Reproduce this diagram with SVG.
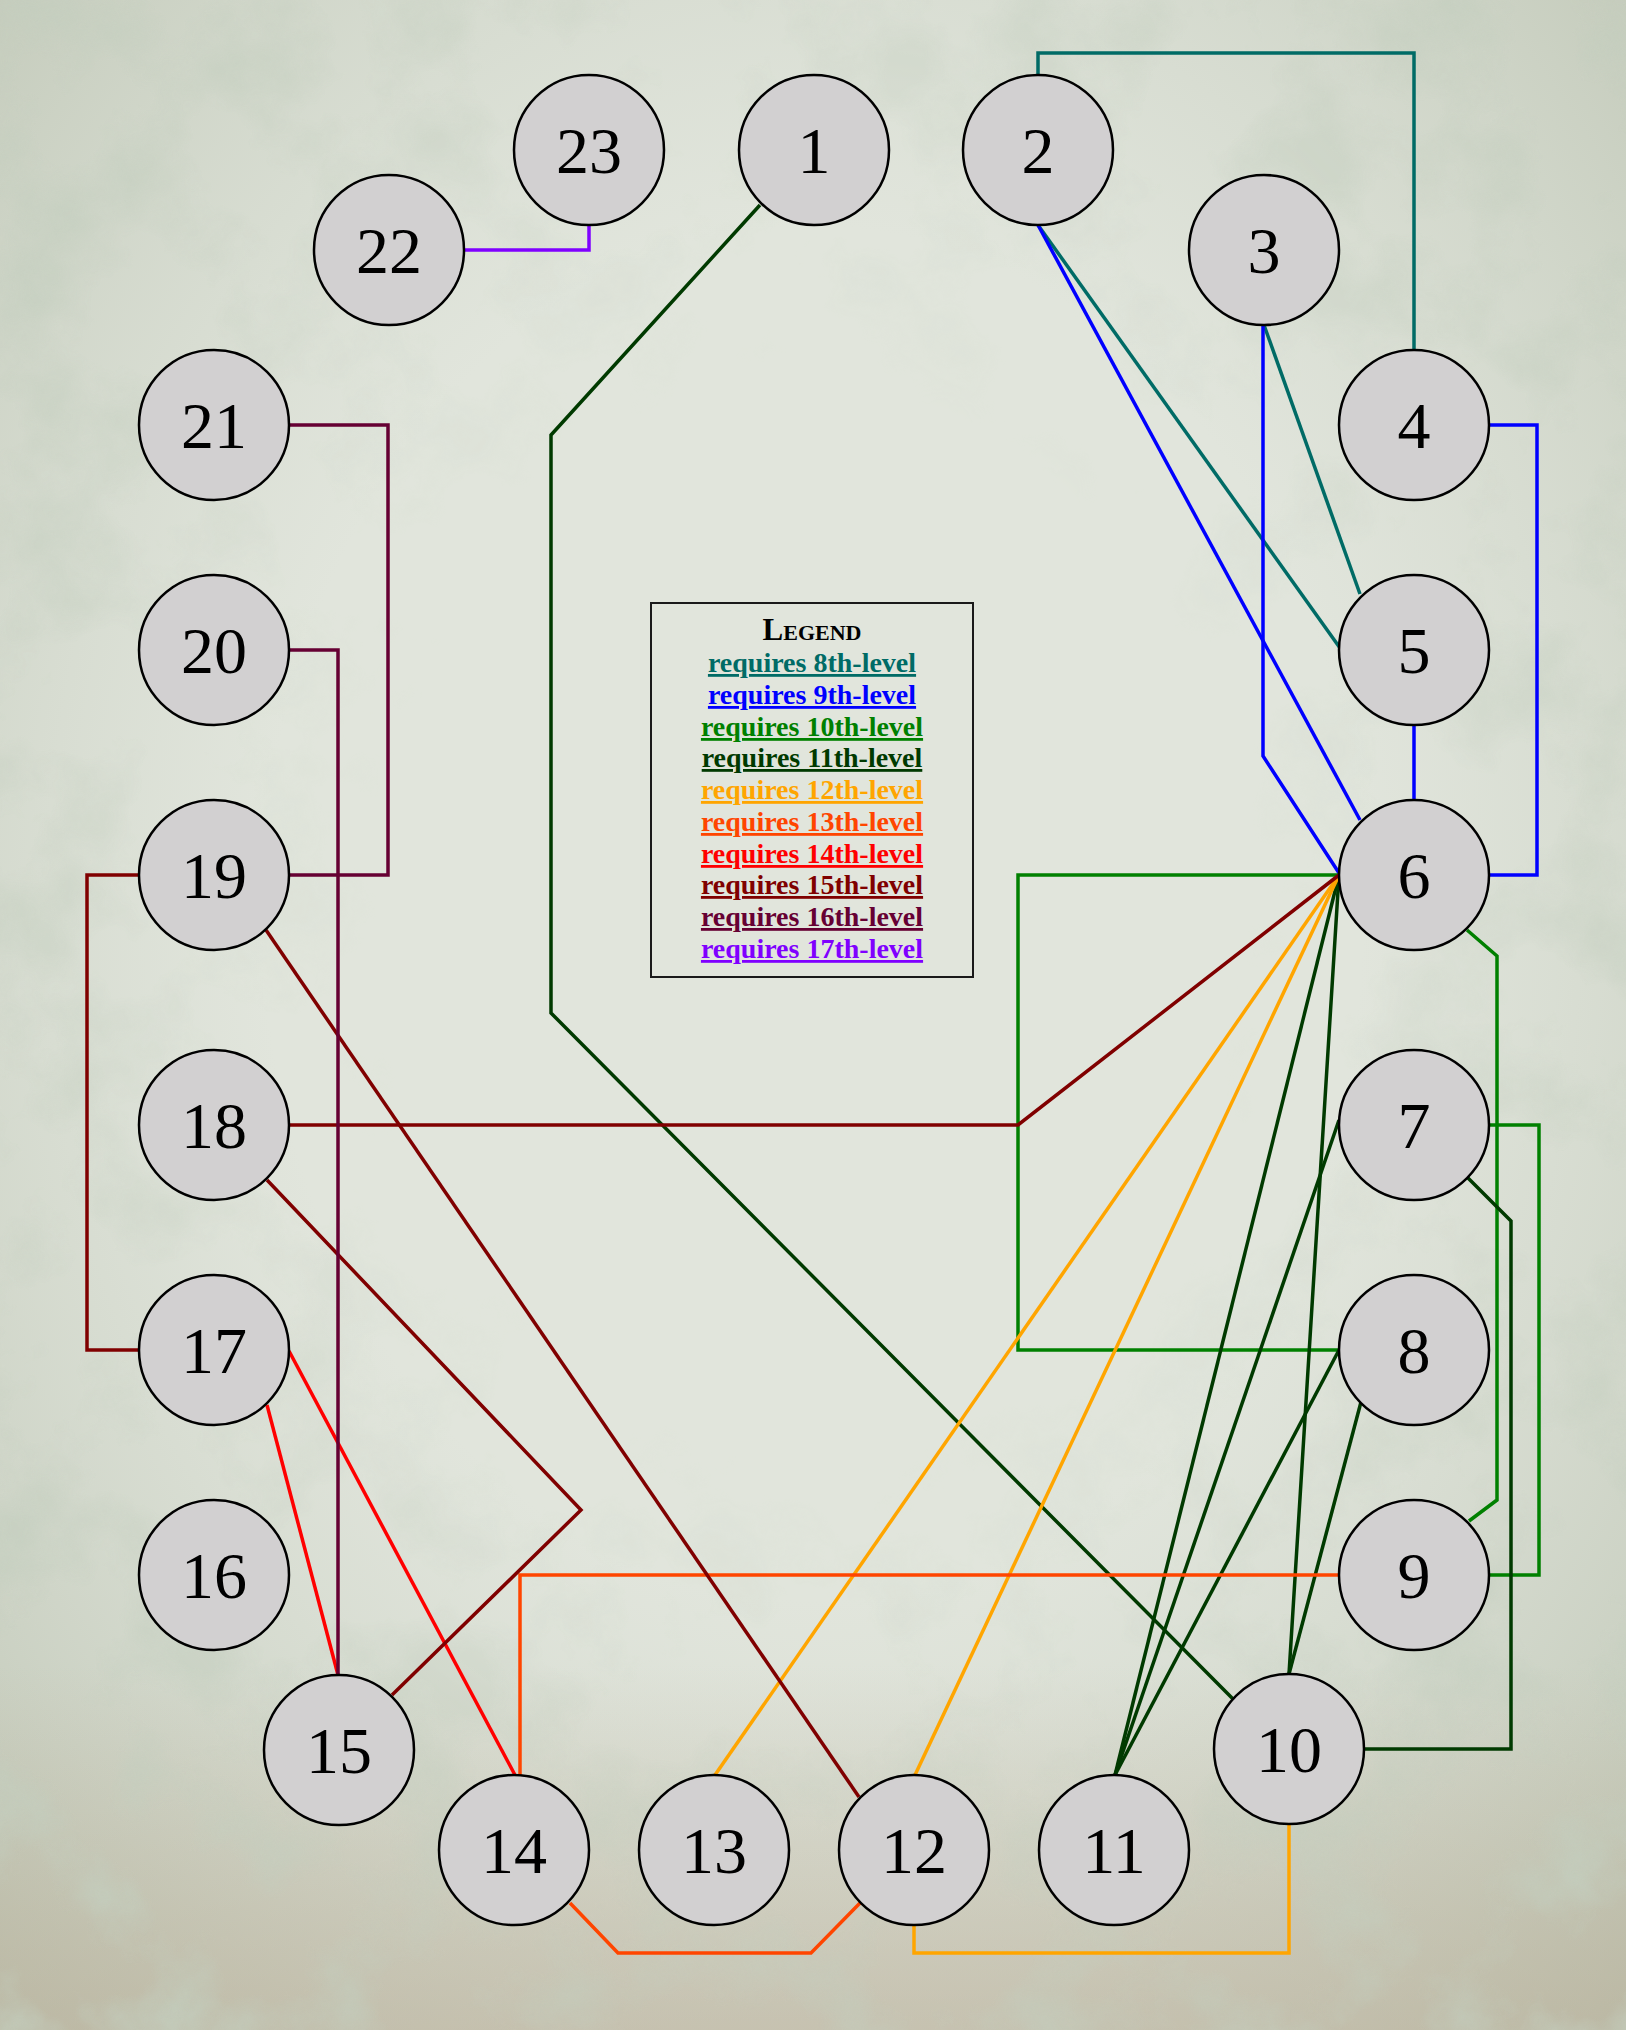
<svg xmlns="http://www.w3.org/2000/svg" width="1626" height="2030" viewBox="0 0 1626 2030">
<defs>
<style>
.node circle{fill:#d2d0d1;stroke:#000;stroke-width:2.5}
.node text{font-family:"Liberation Serif","Times New Roman",serif;font-size:66px;text-anchor:middle;fill:#000}
.e{fill:none;stroke-width:3.5;stroke-linejoin:miter}
.c8{stroke:#006b66}.c9{stroke:#0000ff}.c10{stroke:#008000}.c11{stroke:#003a00}
.c12{stroke:#ffa500}.c13{stroke:#ff4500}.c14{stroke:#ff0000}.c15{stroke:#800000}
.c16{stroke:#660033}.c17{stroke:#7f00ff}
.lg{font-family:"Liberation Serif","Times New Roman",serif;font-weight:bold;font-size:28px;text-anchor:middle;text-decoration:underline}
</style>
<radialGradient id="vig" cx="50%" cy="45%" r="75%">
<stop offset="0.45" stop-color="#c3cbbc" stop-opacity="0"/>
<stop offset="1" stop-color="#b4bca8" stop-opacity="0.8"/>
</radialGradient>
<linearGradient id="btm" x1="0" y1="0" x2="0" y2="1">
<stop offset="0.82" stop-color="#b9a890" stop-opacity="0"/>
<stop offset="1" stop-color="#b9a890" stop-opacity="0.45"/>
</linearGradient>
<radialGradient id="mg" cx="50%" cy="45%" r="72%">
<stop offset="0.35" stop-color="#000"/>
<stop offset="1" stop-color="#fff"/>
</radialGradient>
<mask id="edgeMask"><rect width="1626" height="2030" fill="url(#mg)"/></mask>
<filter id="tex" x="0" y="0" width="100%" height="100%">
<feTurbulence type="fractalNoise" baseFrequency="0.008" numOctaves="5" seed="7"/>
<feColorMatrix type="matrix" values="0 0 0 0 0.55  0 0 0 0 0.62  0 0 0 0 0.52  3 0 0 0 -1.35"/>
</filter>
</defs>
<rect width="1626" height="2030" fill="#e1e5dc"/>
<rect width="1626" height="2030" fill="url(#vig)"/>
<rect width="1626" height="2030" fill="url(#btm)"/>
<rect width="1626" height="2030" filter="url(#tex)" mask="url(#edgeMask)" opacity="0.9"/>

<g id="connectors">
<path class="e c8" d="M1038,75 V53 H1414 V350"/>
<path class="e c8" d="M1038,225 L1340,648"/>
<path class="e c8" d="M1264,325 L1360,594"/>
<path class="e c9" d="M1038,225 L1360,820"/>
<path class="e c9" d="M1263,325 V756 L1339,873"/>
<path class="e c9" d="M1489,425 H1537 V875 H1489"/>
<path class="e c9" d="M1414,725 V800"/>
<path class="e c10" d="M1339,875 H1018 V1350 H1339"/>
<path class="e c10" d="M1467,930 L1497,956 V1500 L1469,1521"/>
<path class="e c10" d="M1489,1125 H1539 V1575 H1489"/>
<path class="e c11" d="M760,205 L551,435 V1013 L1234,1700"/>
<path class="e c11" d="M1468,1178 L1511,1221 V1749 H1364"/>
<path class="e c11" d="M1339,875 L1115,1775"/>
<path class="e c11" d="M1339,875 L1289,1674"/>
<path class="e c11" d="M1339,1120 L1115,1775"/>
<path class="e c11" d="M1339,1350 L1115,1775"/>
<path class="e c11" d="M1361,1402 L1289,1674"/>
<path class="e c12" d="M1339,875 L715,1775"/>
<path class="e c12" d="M1339,875 L915,1775"/>
<path class="e c12" d="M914,1925 V1953 H1289 V1824"/>
<path class="e c13" d="M1339,1575 H520 V1775"/>
<path class="e c13" d="M570,1903 L618,1953 H811 L860,1903"/>
<path class="e c14" d="M267,1405 L338,1675"/>
<path class="e c14" d="M289,1351 L515,1775"/>
<path class="e c15" d="M1339,875 L1018,1125 H289"/>
<path class="e c15" d="M267,1180 L581,1510 L392,1695"/>
<path class="e c15" d="M266,930 L859,1797"/>
<path class="e c15" d="M139,875 H87 V1350 H139"/>
<path class="e c16" d="M289,650 H338 V1675"/>
<path class="e c16" d="M289,425 H388 V875 H289"/>
<path class="e c17" d="M464,250 H589 V225"/>
</g>

<g id="n1" class="node"><circle cx="814" cy="150" r="75"/><text x="814" y="173">1</text></g>
<g id="n2" class="node"><circle cx="1038" cy="150" r="75"/><text x="1038" y="173">2</text></g>
<g id="n3" class="node"><circle cx="1264" cy="250" r="75"/><text x="1264" y="273">3</text></g>
<g id="n4" class="node"><circle cx="1414" cy="425" r="75"/><text x="1414" y="448">4</text></g>
<g id="n5" class="node"><circle cx="1414" cy="650" r="75"/><text x="1414" y="673">5</text></g>
<g id="n6" class="node"><circle cx="1414" cy="875" r="75"/><text x="1414" y="898">6</text></g>
<g id="n7" class="node"><circle cx="1414" cy="1125" r="75"/><text x="1414" y="1148">7</text></g>
<g id="n8" class="node"><circle cx="1414" cy="1350" r="75"/><text x="1414" y="1373">8</text></g>
<g id="n9" class="node"><circle cx="1414" cy="1575" r="75"/><text x="1414" y="1598">9</text></g>
<g id="n10" class="node"><circle cx="1289" cy="1749" r="75"/><text x="1289" y="1772">10</text></g>
<g id="n11" class="node"><circle cx="1114" cy="1850" r="75"/><text x="1114" y="1873">11</text></g>
<g id="n12" class="node"><circle cx="914" cy="1850" r="75"/><text x="914" y="1873">12</text></g>
<g id="n13" class="node"><circle cx="714" cy="1850" r="75"/><text x="714" y="1873">13</text></g>
<g id="n14" class="node"><circle cx="514" cy="1850" r="75"/><text x="514" y="1873">14</text></g>
<g id="n15" class="node"><circle cx="339" cy="1750" r="75"/><text x="339" y="1773">15</text></g>
<g id="n16" class="node"><circle cx="214" cy="1575" r="75"/><text x="214" y="1598">16</text></g>
<g id="n17" class="node"><circle cx="214" cy="1350" r="75"/><text x="214" y="1373">17</text></g>
<g id="n18" class="node"><circle cx="214" cy="1125" r="75"/><text x="214" y="1148">18</text></g>
<g id="n19" class="node"><circle cx="214" cy="875" r="75"/><text x="214" y="898">19</text></g>
<g id="n20" class="node"><circle cx="214" cy="650" r="75"/><text x="214" y="673">20</text></g>
<g id="n21" class="node"><circle cx="214" cy="425" r="75"/><text x="214" y="448">21</text></g>
<g id="n22" class="node"><circle cx="389" cy="250" r="75"/><text x="389" y="273">22</text></g>
<g id="n23" class="node"><circle cx="589" cy="150" r="75"/><text x="589" y="173">23</text></g>

<g id="legend">
<rect x="651" y="603" width="322" height="374" fill="none" stroke="#1a1a1a" stroke-width="2"/>
<text x="812" y="640" font-family="'Liberation Serif','Times New Roman',serif" font-weight="bold" font-size="31" text-anchor="middle" font-variant="small-caps" fill="#000">Legend</text>
<text class="lg" x="812" y="672" fill="#006b66">requires 8th-level</text>
<text class="lg" x="812" y="704" fill="#0000ff">requires 9th-level</text>
<text class="lg" x="812" y="736" fill="#008000">requires 10th-level</text>
<text class="lg" x="812" y="767" fill="#003a00">requires 11th-level</text>
<text class="lg" x="812" y="799" fill="#ffa500">requires 12th-level</text>
<text class="lg" x="812" y="831" fill="#ff4500">requires 13th-level</text>
<text class="lg" x="812" y="863" fill="#ff0000">requires 14th-level</text>
<text class="lg" x="812" y="894" fill="#800000">requires 15th-level</text>
<text class="lg" x="812" y="926" fill="#660033">requires 16th-level</text>
<text class="lg" x="812" y="958" fill="#7f00ff">requires 17th-level</text>
</g>
</svg>
